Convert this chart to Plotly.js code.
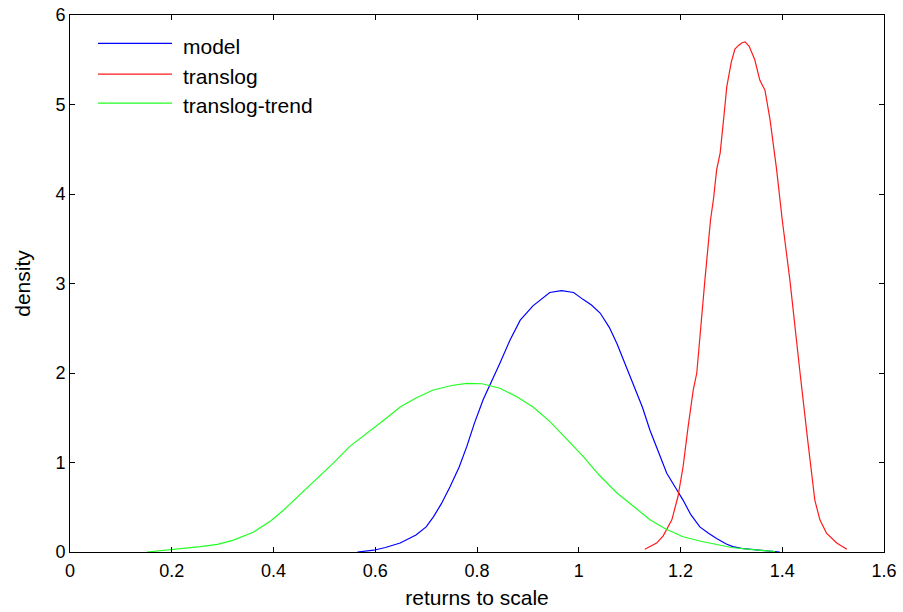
<!DOCTYPE html>
<html>
<head>
<meta charset="utf-8">
<script src="https://cdn.plot.ly/plotly-3.0.1.min.js"></script>
<style>
  html, body { margin: 0; padding: 0; background: #ffffff; }
  #chart { width: 903px; height: 612px; }
</style>
</head>
<body>
<div id="chart"></div>
<script>
// Kernel density estimates of returns to scale for three specifications.

const seriesNames = ['model', 'translog', 'translog-trend'];
const seriesColors = ['#0000ff', '#ff1a1a', '#22ff22'];

// model
const modelX = [0.565, 0.597, 0.62, 0.649, 0.68, 0.70, 0.714, 0.73, 0.747, 0.765, 0.78, 0.795,
  0.812, 0.83, 0.845, 0.865, 0.885, 0.91, 0.943, 0.966, 0.99, 1.009, 1.025, 1.042, 1.06, 1.075,
  1.09, 1.107, 1.125, 1.14, 1.157, 1.173, 1.19, 1.205, 1.22, 1.238, 1.255, 1.271, 1.29, 1.303,
  1.32, 1.337, 1.36, 1.395];
const modelY = [0.0, 0.02, 0.05, 0.10, 0.19, 0.28, 0.39, 0.54, 0.73, 0.95, 1.18, 1.44,
  1.70, 1.92, 2.11, 2.37, 2.59, 2.75, 2.90, 2.92, 2.90, 2.82, 2.76, 2.67, 2.51, 2.33,
  2.12, 1.89, 1.62, 1.36, 1.12, 0.88, 0.72, 0.58, 0.42, 0.28, 0.21, 0.15, 0.09, 0.06,
  0.04, 0.03, 0.015, 0.0];

// translog
const translogX = [1.13, 1.153, 1.166, 1.173, 1.183, 1.195, 1.205, 1.215, 1.225, 1.232, 1.24,
  1.248, 1.259, 1.265, 1.271, 1.278, 1.285, 1.291, 1.30, 1.307, 1.314, 1.321, 1.327, 1.335,
  1.346, 1.356, 1.366, 1.376, 1.389, 1.40, 1.415, 1.425, 1.435, 1.45, 1.464, 1.474, 1.487,
  1.507, 1.527];
const translogY = [0.03, 0.10, 0.18, 0.25, 0.36, 0.62, 0.95, 1.40, 1.81, 2.0, 2.55,
  3.04, 3.71, 3.95, 4.27, 4.46, 4.85, 5.2, 5.48, 5.62, 5.66, 5.69, 5.70, 5.65,
  5.50, 5.27, 5.16, 4.83, 4.27, 3.71, 3.04, 2.55, 2.0, 1.25, 0.58, 0.36, 0.21,
  0.10, 0.03];

// translog-trend
const trendX = [0.151, 0.19, 0.22, 0.256, 0.29, 0.32, 0.36, 0.395, 0.42, 0.452, 0.485, 0.517,
  0.55, 0.585, 0.616, 0.649, 0.68, 0.714, 0.75, 0.78, 0.81, 0.845, 0.88, 0.91, 0.943, 0.975,
  1.009, 1.04, 1.075, 1.11, 1.14, 1.17, 1.205, 1.24, 1.271, 1.30, 1.337, 1.36, 1.386];
const trendY = [0.0, 0.02, 0.04, 0.06, 0.085, 0.13, 0.22, 0.35, 0.47, 0.64, 0.81, 0.99,
  1.18, 1.33, 1.47, 1.62, 1.72, 1.81, 1.86, 1.885, 1.88, 1.83, 1.73, 1.62, 1.46, 1.27,
  1.065, 0.86, 0.66, 0.5, 0.36, 0.26, 0.17, 0.12, 0.08, 0.05, 0.03, 0.015, 0.005];

const xTickVals = [0, 0.2, 0.4, 0.6, 0.8, 1, 1.2, 1.4, 1.6];
const xTickText = ['0', '0.2', '0.4', '0.6', '0.8', '1', '1.2', '1.4', '1.6'];
const yTickVals = [0, 1, 2, 3, 4, 5, 6];
const yTickText = ['0', '1', '2', '3', '4', '5', '6'];

const xs = [modelX, translogX, trendX];
const ys = [modelY, translogY, trendY];

const traces = seriesNames.map((name, i) => ({
  type: 'scatter',
  mode: 'lines',
  name: name,
  x: xs[i],
  y: ys[i],
  line: { color: seriesColors[i], width: 1.2 },
  showlegend: false,
  hoverinfo: 'x+y+name'
}));

// Legend drawn as line samples and labels in the upper-left corner of the axes
const legendRowsY = [0.947, 0.890, 0.836];
const legendTextY = [0.942, 0.885, 0.831];
const shapes = seriesNames.map((name, i) => ({
  type: 'line', xref: 'paper', yref: 'paper',
  x0: 0.0344, x1: 0.1253, y0: legendRowsY[i], y1: legendRowsY[i],
  line: { color: seriesColors[i], width: 1.2 }
}));
const annotations = seriesNames.map((name, i) => ({
  xref: 'paper', yref: 'paper', x: 0.1364, y: legendTextY[i],
  xanchor: 'left', yanchor: 'middle', showarrow: false,
  text: name,
  font: { family: 'Liberation Sans, Arial, sans-serif', size: 21, color: '#000000' }
}));

const axisCommon = {
  showgrid: false,
  zeroline: false,
  showline: true,
  linecolor: '#000000',
  linewidth: 1,
  mirror: 'ticks',
  ticks: 'inside',
  ticklen: 5,
  tickwidth: 1,
  tickcolor: '#000000',
  tickfont: { family: 'Liberation Sans, Arial, sans-serif', size: 18, color: '#000000' }
};

const layout = {
  width: 903,
  height: 612,
  margin: { l: 70, r: 19, t: 15, b: 60, pad: 0 },
  paper_bgcolor: '#ffffff',
  plot_bgcolor: '#ffffff',
  showlegend: false,
  xaxis: Object.assign({}, axisCommon, {
    range: [0, 1.6],
    tickmode: 'array',
    tickvals: xTickVals,
    ticktext: xTickText,
    ticklabelstandoff: 2,
    title: { text: 'returns to scale', standoff: 10,
      font: { family: 'Liberation Sans, Arial, sans-serif', size: 21, color: '#000000' } }
  }),
  yaxis: Object.assign({}, axisCommon, {
    range: [0, 6],
    tickmode: 'array',
    tickvals: yTickVals,
    ticktext: yTickText,
    title: { text: 'density', standoff: 19,
      font: { family: 'Liberation Sans, Arial, sans-serif', size: 21, color: '#000000' } }
  }),
  shapes: shapes,
  annotations: annotations
};

Plotly.newPlot('chart', traces, layout, { displayModeBar: false, staticPlot: true });
</script>
</body>
</html>
